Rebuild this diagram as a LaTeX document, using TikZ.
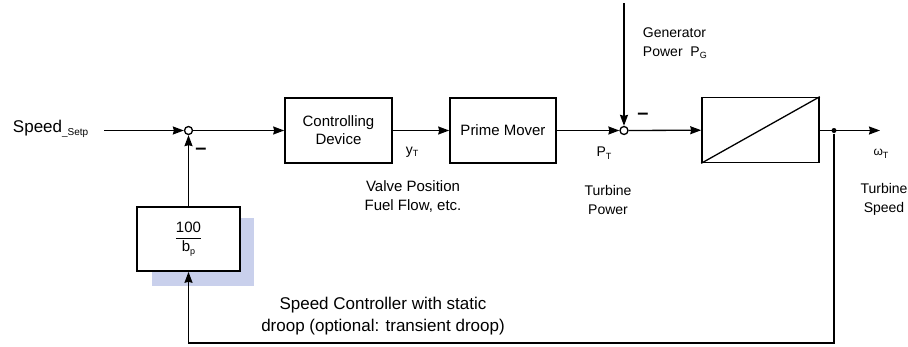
\documentclass[tikz,border=0pt]{standalone}
\usepackage{fontspec}
\setmainfont{Liberation Sans}
\usetikzlibrary{arrows.meta, positioning}
\definecolor{cshade}{HTML}{C9D0EC}
\newcommand{\lowtxt}[1]{\raisebox{-2.5pt}{\fontsize{9}{9}\selectfont #1}}
\tikzset{
  every picture/.style={line width=1.3pt},
  block/.style={draw, line width=1.6pt, fill=white, align=center, font=\fontsize{15}{18}\selectfont, minimum height=65pt},
  sumpt/.style={draw, circle, fill=white, inner sep=0pt, minimum size=8pt, line width=1.3pt},
  arrow/.style={-{Stealth[length=11pt, width=8pt, inset=1pt]}},
  note/.style={font=\fontsize{14}{19}\selectfont, align=center},
  minus/.style={font=\bfseries\fontsize{20}{20}\selectfont},
}

\begin{document}
\begin{tikzpicture}[x=1pt, y=-1pt]
  \useasboundingbox (0,0) rectangle (908,346);
  % forward path
  \node[anchor=west, font=\fontsize{17}{20}\selectfont] (setp) at (9,129) {Speed\lowtxt{\fontsize{10}{10}\selectfont\_Setp}};
  \node[sumpt] (sum1) at (188.5,130.5) {};
  \node[block, minimum width=107pt] (ctrl) at (338.5,130.5) {Controlling\\Device};
  \node[block, minimum width=106pt] (mover) at (503,130.5) {Prime Mover};
  \node[sumpt] (sum2) at (624,130.5) {};
  \node[block, minimum width=117pt] (plant) at (760.5,130) {};
  \node[circle, fill, inner sep=0pt, minimum size=5pt] (split) at (834,130.5) {};
  \coordinate (wout) at (880,130.5);
  \coordinate (gen) at (624,3);
  % feedback
  \fill[cshade] (152,218) rectangle (254,286);
  \node[block, minimum width=103pt, minimum height=64pt, font=\fontsize{15}{17}\selectfont] (droop) at (188.5,239)
    {$\displaystyle\frac{\mbox{100}}{\mbox{b\lowtxt{p}}}$};
  \coordinate (bot) at (834,343);

  \draw[arrow] ([xshift=12pt]setp.east |- sum1) -- (sum1.west);
  \draw[arrow] (sum1) -- (ctrl);
  \draw[arrow] (ctrl) -- (mover);
  \draw[arrow] (mover) -- (sum2.west);
  \draw[arrow] (gen) -- (sum2.north);
  \draw[arrow] (sum2) -- (plant);
  \draw (plant.south west) -- (plant.north east);
  \draw[arrow] (plant.east |- split) -- (wout);
  \draw[arrow] (split) -- (bot) -| (droop.south);
  \draw[arrow] (droop) -- (sum1.south);

  % labels
  \node[minus] (m1) at (201,151) {–};
  \node[minus] (m2) at (643,116) {–};
  \node[note] (yT) at (412,152) {y\lowtxt{T}};
  \node[note, font=\fontsize{15}{19}\selectfont] (valve) at (413,197) {Valve Position\\Fuel Flow, etc.};
  \node[note] (pT) at (604,153) {P\lowtxt{T}};
  \node[note] (tpow) at (608,200) {Turbine\\Power};
  \node[note, anchor=west, align=left] (gpow) at (639,43) {Generator\\Power\ \ P\lowtxt{G}};
  \node[note, font=\fontsize{12}{14}\selectfont] (wT) at (881,154) {ω\lowtxt{T}};
  \node[note] (tspeed) at (884,199) {Turbine\\Speed};
  \node[note, font=\fontsize{17}{22}\selectfont] (droopnote) at (383,316) {Speed Controller with static\\droop (optional: transient droop)};
\end{tikzpicture}
\end{document}
